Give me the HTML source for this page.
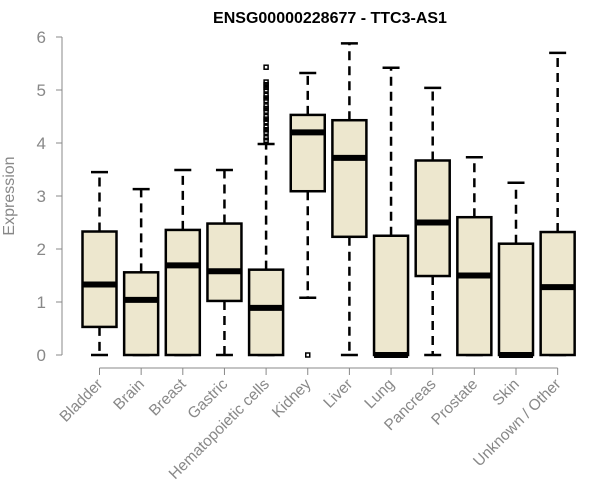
<!DOCTYPE html>
<html><head><meta charset="utf-8"><style>
body{margin:0;background:#fff;}
svg{display:block;font-family:"Liberation Sans",Arial,sans-serif;}
</style></head><body>
<svg id="c" width="600" height="500">
<text x="330" y="23" text-anchor="middle" font-size="16" font-weight="bold">ENSG00000228677 - TTC3-AS1</text>
<text x="0" y="0" transform="translate(14,196) rotate(-90)" text-anchor="middle" font-size="16" fill="#888">Expression</text>
</svg>
<script>
const categories=["Bladder","Brain","Breast","Gastric","Hematopoietic cells","Kidney","Liver","Lung","Pancreas","Prostate","Skin","Unknown / Other"];
const lowWhisker=[0,0,0,0,0,1.08,0,0,0,0,0,0];
const q1=[0.53,0,0,1.02,0,3.09,2.23,0,1.49,0,0,0];
const medians=[1.33,1.04,1.69,1.58,0.89,4.2,3.72,0,2.5,1.5,0,1.28];
const q3=[2.33,1.56,2.36,2.48,1.61,4.53,4.43,2.25,3.67,2.6,2.1,2.32];
const highWhisker=[3.45,3.13,3.49,3.49,3.98,5.32,5.88,5.42,5.04,3.73,3.25,5.7];
const outlierCat=[4,4,4,4,4,4,4,4,4,4,4,4,4,4,4,4,4,4,4,5];
const outlierVal=[4.05,4.1,4.2,4.3,4.4,4.5,4.6,4.7,4.8,4.9,5.0,5.05,5.1,5.15,4.25,4.45,4.65,4.85,5.43,0];
const yTicks=[0,1,2,3,4,5,6];
const svg=document.getElementById('c');
const NS='http://www.w3.org/2000/svg';
const y=v=>355-v*53;
const x=i=>99.5+i*41.65;
function mk(t,a,p){const e=document.createElementNS(NS,t);for(const k in a)e.setAttribute(k,a[k]);(p||svg).appendChild(e);return e;}
let ax=mk('line',{x1:62,x2:62,y1:y(6),y2:y(0),stroke:'#888'});


yTicks.forEach(v=>{
 let t=mk('line',{x1:56,x2:62,y1:y(v),y2:y(v),stroke:'#888'});
 
 
 let l=mk('text',{x:46,y:y(v)+6,'text-anchor':'end','font-size':17,fill:'#888'});
 l.textContent=v;
 
 
});
let xa=mk('line',{x1:x(0),x2:x(11),y1:368,y2:368,stroke:'#888'});


categories.forEach((c,i)=>{
 let t=mk('line',{x1:x(i),x2:x(i),y1:368,y2:375,stroke:'#888'});
 
 
 let l=mk('text',{x:0,y:0,transform:`translate(${x(i)+4},${385}) rotate(-45)`,'text-anchor':'end','font-size':15.5,fill:'#888'});
 l.textContent=c;
 
 
});
const hw=17;
categories.forEach((c,i)=>{
 const g=mk('g',{});
 
 
 const cx=x(i);
 mk('line',{x1:cx,x2:cx,y1:y(q3[i]),y2:y(highWhisker[i]),stroke:'#000','stroke-width':2.5,'stroke-dasharray':'9,6'},g);
 mk('line',{x1:cx,x2:cx,y1:y(q1[i]),y2:y(lowWhisker[i]),stroke:'#000','stroke-width':2.5,'stroke-dasharray':'9,6'},g);
 mk('line',{x1:cx-8.5,x2:cx+8.5,y1:y(highWhisker[i]),y2:y(highWhisker[i]),stroke:'#000','stroke-width':2.5},g);
 mk('line',{x1:cx-8.5,x2:cx+8.5,y1:y(lowWhisker[i]),y2:y(lowWhisker[i]),stroke:'#000','stroke-width':2.5},g);
 mk('rect',{x:cx-hw,y:y(q3[i]),width:hw*2,height:Math.max(0,y(q1[i])-y(q3[i])),fill:'#EDE7CE',stroke:'#000','stroke-width':2.5},g);
 mk('line',{x1:cx-hw,x2:cx+hw,y1:y(medians[i]),y2:y(medians[i]),stroke:'#000','stroke-width':6},g);
});
outlierCat.forEach((ci,k)=>{
 let o=mk('rect',{x:x(ci)-2,y:y(outlierVal[k])-2,width:4,height:4,fill:'none',stroke:'#000','stroke-width':1.5});
 
 
});
</script>
</body></html>
